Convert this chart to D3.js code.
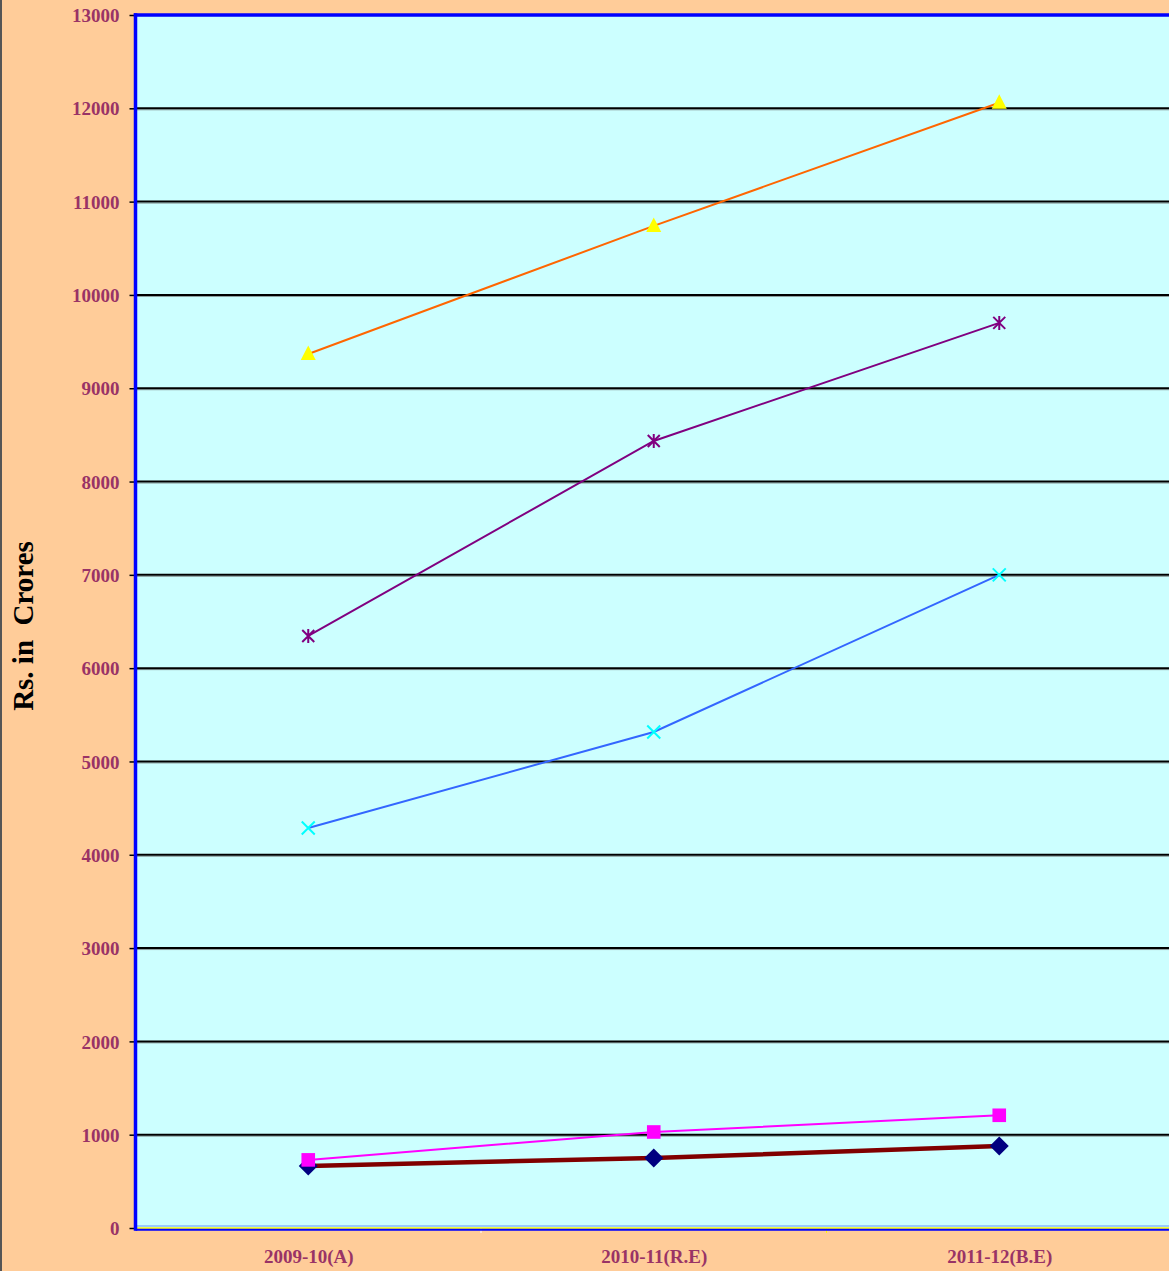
<!DOCTYPE html>
<html><head><meta charset="utf-8">
<script src="https://cdn.jsdelivr.net/npm/d3@7"></script>
<style>html,body{margin:0;padding:0;background:#FFCC99;overflow:hidden}</style>
</head><body>
<svg id="chart" width="1169" height="1271"></svg>
<script>
const categories = ["2009-10(A)", "2010-11(R.E)", "2011-12(B.E)"];
const yTicks = [0,1000,2000,3000,4000,5000,6000,7000,8000,9000,10000,11000,12000,13000];
const seriesA = [665, 750, 879];     // navy diamond, dark red line
const seriesB = [730, 1029, 1208];   // magenta square
const seriesC = [4287, 5316, 7000];  // cyan x, blue line
const seriesD = [6345, 8435, 9700];  // purple asterisk
const seriesE = [9367, 10740, 12060]; // yellow triangle, orange line

(function(){
const svg = d3.select("#chart");
const W = 1169, H = 1271;
const pL = 135.5, pT = 15, pB = 1228, pR = pL + 3*345.5;
const serif = "'Liberation Serif','Times New Roman',serif";

svg.append("rect").attr("width",W).attr("height",H).attr("fill","#FFCC99");
svg.append("rect").attr("x",0).attr("y",0).attr("width",2).attr("height",H).attr("fill","#555555");

const x = d3.scalePoint().domain(categories).range([pL, pR]).padding(0.5);
const y = d3.scaleLinear().domain([0,13000]).range([pB, pT]);

svg.append("rect").attr("x",pL).attr("y",pT).attr("width",pR-pL).attr("height",pB-pT).attr("fill","#CCFFFF");

const grid = svg.append("g");
yTicks.filter(v => v > 0 && v < 13000).forEach(v => {
  grid.append("line").attr("x1",pL).attr("x2",pR+10).attr("y1",y(v)+1.5).attr("y2",y(v)+1.5).attr("stroke","#8a9a9a").attr("stroke-width",1);
  grid.append("line").attr("x1",pL).attr("x2",pR+10).attr("y1",y(v)).attr("y2",y(v)).attr("stroke","#000").attr("stroke-width",2);
});

const yAxis = d3.axisLeft(y).tickValues(yTicks).tickSize(5).tickFormat(d3.format("d"));
const ga = svg.append("g").attr("transform",`translate(${pL-1},0)`).call(yAxis);
ga.select(".domain").remove();
ga.selectAll(".tick line").attr("stroke","#000").attr("stroke-width",1.5);
ga.selectAll(".tick text").attr("fill","#993366").attr("font-family",serif)
  .attr("font-weight","bold").attr("font-size","19px").attr("x",-15).attr("dy","0.35em");

const xAxis = d3.axisBottom(x).tickSize(0);
const gx = svg.append("g").attr("transform",`translate(0,${pB})`).call(xAxis);
gx.select(".domain").remove();
gx.selectAll(".tick text").attr("fill","#993366").attr("font-family",serif)
  .attr("font-weight","bold").attr("font-size","19px").attr("y",35).attr("dy","0");
[1,2].forEach(i => {
  const xx = pL + i*(pR-pL)/3;
  svg.append("line").attr("x1",xx).attr("x2",xx).attr("y1",pB).attr("y2",pB+5).attr("stroke", i===1?"#ffffff":"#ffff00").attr("stroke-width",1);
});

svg.append("line").attr("x1",pL).attr("x2",pR+10).attr("y1",pB-2).attr("y2",pB-2).attr("stroke","#6699ff").attr("stroke-width",1);
svg.append("line").attr("x1",pL).attr("x2",pR+10).attr("y1",pB).attr("y2",pB).attr("stroke","#ffff00").attr("stroke-width",1.5);
svg.append("line").attr("x1",pL).attr("x2",pR+10).attr("y1",pB+1.8).attr("y2",pB+1.8).attr("stroke","#0000ff").attr("stroke-width",2);
svg.append("line").attr("x1",pL).attr("x2",pL).attr("y1",pT-1.7).attr("y2",pB+2.8).attr("stroke","#0000ff").attr("stroke-width",3.5);
svg.append("line").attr("x1",pL-1.7).attr("x2",pR+10).attr("y1",pT).attr("y2",pT).attr("stroke","#0000ff").attr("stroke-width",3.5);

const line = d3.line().x((d,i)=>x(categories[i])).y(d=>y(d));
const series = [
  {data: seriesA, stroke:"#800000", sw:4.5, marker:"diamond", fill:"#000080"},
  {data: seriesB, stroke:"#FF00FF", sw:2, marker:"square", fill:"#FF00FF"},
  {data: seriesC, stroke:"#3366FF", sw:2, marker:"x", fill:"#00FFFF"},
  {data: seriesD, stroke:"#800080", sw:2, marker:"asterisk", fill:"#800080"},
  {data: seriesE, stroke:"#FF6600", sw:2, marker:"triangle", fill:"#FFFF00"}
];
series.forEach(s => {
  svg.append("path").datum(s.data).attr("d",line).attr("fill","none").attr("stroke",s.stroke).attr("stroke-width",s.sw);
});
series.forEach(s => {
  const g = svg.append("g");
  s.data.forEach((v,i) => {
    const cx = x(categories[i]), cy = y(v);
    const m = g.append("g").attr("transform",`translate(${cx},${cy})`);
    if (s.marker === "diamond") {
      m.append("path").attr("d","M0,-9.5L9.5,0L0,9.5L-9.5,0Z").attr("fill",s.fill);
    } else if (s.marker === "square") {
      m.append("rect").attr("x",-6.8).attr("y",-6.8).attr("width",13.6).attr("height",13.6).attr("fill",s.fill);
    } else if (s.marker === "triangle") {
      m.append("path").attr("d","M0,-8.5L7.5,6L-7.5,6Z").attr("fill",s.fill);
    } else if (s.marker === "x") {
      m.append("path").attr("d","M-6.5,-6.5L6.5,6.5M-6.5,6.5L6.5,-6.5").attr("stroke",s.fill).attr("stroke-width",2);
    } else if (s.marker === "asterisk") {
      m.append("path").attr("d","M-6,-6L6,6M-6,6L6,-6M0,-7L0,7").attr("stroke",s.fill).attr("stroke-width",2);
    }
  });
});

svg.append("text").attr("transform","translate(33,626) rotate(-90)").attr("text-anchor","middle")
  .attr("font-family",serif).attr("font-weight","bold").attr("font-size","29px")
  .attr("fill","#000").attr("xml:space","preserve").style("white-space","pre").text("Rs. in  Crores");
})();
</script>
</body></html>
